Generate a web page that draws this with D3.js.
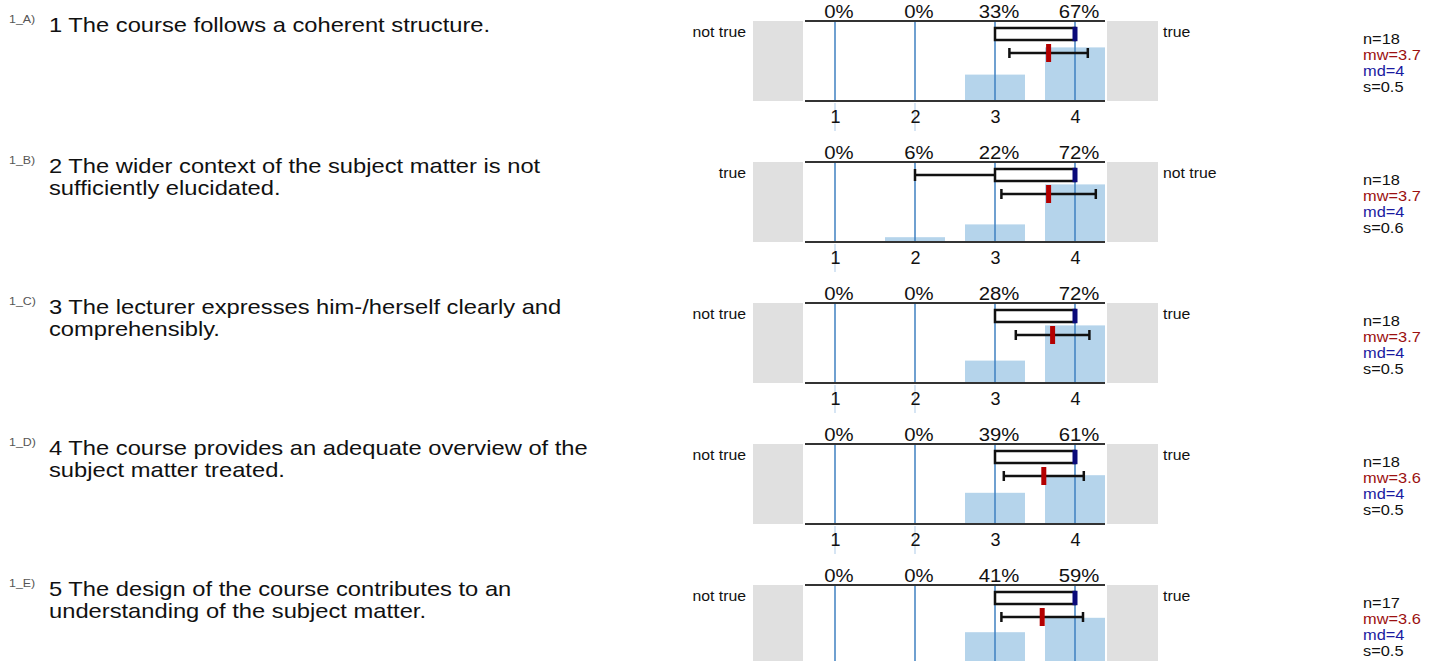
<!DOCTYPE html>
<html lang="en">
<head>
    <meta charset="UTF-8">
    <title>Course evaluation profile</title>
    <style>
        body { margin: 0; background: #fff; }
        svg text { font-family: "Liberation Sans", Arial, sans-serif; }
    </style>
</head>
<body>
    <svg id="chart" width="1436" height="661"></svg>

    <script src="https://d3js.org/d3.v7.min.js"></script>
    <script>
        // --- data ---
        const codes = ["1_A)", "1_B)", "1_C)", "1_D)", "1_E)"];
        const questions = [
            ["1 The course follows a coherent structure."],
            ["2 The wider context of the subject matter is not", "sufficiently elucidated."],
            ["3 The lecturer expresses him-/herself clearly and", "comprehensibly."],
            ["4 The course provides an adequate overview of the", "subject matter treated."],
            ["5 The design of the course contributes to an", "understanding of the subject matter."]
        ];
        const leftLabels = ["not true", "true", "not true", "not true", "not true"];
        const rightLabels = ["true", "not true", "true", "true", "true"];
        const categories = [1, 2, 3, 4];
        const percents = [
            [0, 0, 33, 67],
            [0, 6, 22, 72],
            [0, 0, 28, 72],
            [0, 0, 39, 61],
            [0, 0, 41, 59]
        ];
        const nValues = [18, 18, 18, 18, 17];
        const means = [3.67, 3.67, 3.72, 3.61, 3.59];
        const sds = [0.49, 0.59, 0.46, 0.50, 0.51];
        const medians = [4, 4, 4, 4, 4];
        const quart1 = [3, 3, 3, 3, 3];
        const quart3 = [4, 4, 4, 4, 4];
        const whiskLow = [3, 2, 3, 3, 3];
        const whiskHigh = [4, 4, 4, 4, 4];
        const mwLabels = ["3.7", "3.7", "3.7", "3.6", "3.6"];
        const mdLabels = ["4", "4", "4", "4", "4"];
        const sLabels = ["0.5", "0.6", "0.5", "0.5", "0.5"];

        const W = 1436, H = 661;
        const svg = d3.select("#chart");

        const x = d3.scaleLinear().domain([1, 4]).range([835, 1075]);
        const plotH = 80;
        const barH = d3.scaleLinear().domain([0, 100]).range([0, plotH]);
        const panelTop = d3.scaleLinear().domain([0, 1]).range([21, 162]);

        const gridBlue = "#3f80c0";
        const barBlue = "#b5d4eb";
        const red = "#b40000";
        const navy = "#0a0a7a";
        const stretch = 1.13; // the reference type is a bit wide

        // text with the slight horizontal stretch of the original
        function label(parent, px, py, size, str, color, anchor) {
            return parent.append("text")
                .attr("transform", `translate(${px},${py}) scale(${stretch},1)`)
                .attr("font-size", size)
                .attr("fill", color || "#111")
                .attr("text-anchor", anchor || "start")
                .text(str);
        }

        questions.forEach((lines, i) => {
            const top = panelTop(i);
            const g = svg.append("g").attr("transform", `translate(0,${top})`);
            const x0 = x(0.625), x1 = x(4.375);

            // question text
            label(g, 9, 2, 11, codes[i], "#555");
            lines.forEach((l, j) => label(g, 49, 11 + j * 22, 21, l));

            // side boxes and labels
            g.append("rect").attr("x", 753).attr("y", 0).attr("width", 50).attr("height", plotH).attr("fill", "#e0e0e0");
            g.append("rect").attr("x", 1107).attr("y", 0).attr("width", 51).attr("height", plotH).attr("fill", "#e0e0e0");
            label(g, 746, 16, 14, leftLabels[i], "#111", "end");
            label(g, 1163, 16, 14, rightLabels[i]);

            const axisFits = top + plotH + 28 < H;

            // faint tick stubs below axis where there is no bar
            if (axisFits) {
                categories.forEach((c, k) => {
                    if (percents[i][k] === 0) {
                        g.append("line").attr("x1", x(c)).attr("x2", x(c))
                            .attr("y1", plotH + 2).attr("y2", plotH + 30)
                            .attr("stroke", "#c8ddf0").attr("stroke-width", 1.5);
                    }
                });
            }

            // bars
            g.selectAll("rect.bar").data(categories).enter().append("rect")
                .attr("class", "bar")
                .attr("x", c => x(c) - 30)
                .attr("width", 60)
                .attr("y", (c, k) => plotH - barH(percents[i][k]))
                .attr("height", (c, k) => barH(percents[i][k]))
                .attr("fill", barBlue);

            // grid lines
            g.selectAll("line.grid").data(categories).enter().append("line")
                .attr("class", "grid")
                .attr("x1", c => x(c)).attr("x2", c => x(c))
                .attr("y1", 0).attr("y2", plotH)
                .attr("stroke", gridBlue).attr("stroke-width", 1.5);

            // top / bottom rules
            [0, plotH].forEach(yy => {
                g.append("line").attr("x1", x0).attr("x2", x1).attr("y1", yy).attr("y2", yy)
                    .attr("stroke", "#333").attr("stroke-width", 2);
            });

            // percent labels
            categories.forEach((c, k) => {
                label(g, x(c) + 4, -3, 18, percents[i][k] + "%", "#111", "middle");
            });

            // category axis labels (only where they fall inside the picture)
            if (axisFits) {
                const axis = d3.axisBottom(x).tickValues(categories).tickSize(0).tickPadding(9).tickFormat(d3.format("d"));
                const ax = g.append("g").attr("transform", `translate(0,${plotH})`).call(axis);
                ax.select(".domain").remove();
                ax.selectAll("text").attr("font-size", 18).attr("fill", "#111")
                    .style("font-family", '"Liberation Sans", Arial, sans-serif');
            }

            // box plot
            const by = 7, bh = 12, bm = by + bh / 2;
            if (whiskLow[i] < quart1[i]) {
                g.append("line").attr("x1", x(whiskLow[i])).attr("x2", x(quart1[i]))
                    .attr("y1", bm).attr("y2", bm).attr("stroke", "#111").attr("stroke-width", 2.5);
                g.append("line").attr("x1", x(whiskLow[i])).attr("x2", x(whiskLow[i]))
                    .attr("y1", bm - 6).attr("y2", bm + 6).attr("stroke", "#111").attr("stroke-width", 2.5);
            }
            if (whiskHigh[i] > quart3[i]) {
                g.append("line").attr("x1", x(quart3[i])).attr("x2", x(whiskHigh[i]))
                    .attr("y1", bm).attr("y2", bm).attr("stroke", "#111").attr("stroke-width", 2.5);
            }
            g.append("rect").attr("x", x(quart1[i])).attr("y", by)
                .attr("width", x(quart3[i]) - x(quart1[i])).attr("height", bh)
                .attr("fill", "#fff").attr("stroke", "#111").attr("stroke-width", 2.5);
            g.append("rect").attr("x", x(medians[i]) - 2.5).attr("y", by - 1.2)
                .attr("width", 5).attr("height", bh + 2.4).attr("fill", navy);

            // mean +/- sd
            const my = 32;
            const lo = x(means[i] - sds[i]), hi = x(means[i] + sds[i]);
            g.append("line").attr("x1", lo).attr("x2", hi).attr("y1", my).attr("y2", my)
                .attr("stroke", "#111").attr("stroke-width", 2.5);
            [lo, hi].forEach(xx => {
                g.append("line").attr("x1", xx).attr("x2", xx).attr("y1", my - 5).attr("y2", my + 5)
                    .attr("stroke", "#111").attr("stroke-width", 2.5);
            });
            g.append("rect").attr("x", x(means[i]) - 2.5).attr("y", my - 9)
                .attr("width", 5).attr("height", 18).attr("fill", red);

            // statistics
            const stats = [
                ["n=" + nValues[i], "#111"],
                ["mw=" + mwLabels[i], "#9b1010"],
                ["md=" + mdLabels[i], "#1a1aa0"],
                ["s=" + sLabels[i], "#111"]
            ];
            stats.forEach((s, j) => label(g, 1363, 23 + j * 16, 14.5, s[0], s[1]));
        });
    </script>
</body>
</html>
